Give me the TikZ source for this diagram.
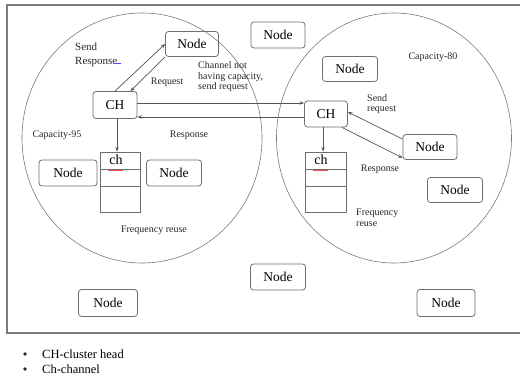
\documentclass[tikz,border=0pt]{standalone}
\usepackage{fontspec}
\setmainfont{Liberation Serif}
\usetikzlibrary{arrows.meta,shapes.geometric}
\definecolor{linegray}{HTML}{555555}
\definecolor{boxgray}{HTML}{6E6E6E}
\definecolor{framegray}{HTML}{7A7A7A}
\tikzset{
  nodebox/.style={draw=boxgray, line width=0.8pt, rounded corners=3pt, inner sep=0pt,
    minimum width=54pt, minimum height=25pt, font=\fontsize{13.5}{15}\selectfont},
  cell/.style={draw=framegray, line width=0.6pt, ellipse, inner sep=0pt},
  tab/.style={draw=boxgray, line width=0.7pt, inner sep=0pt, minimum width=40pt, minimum height=60pt},
  lbl/.style={font=\fontsize{10}{10.5}\selectfont, inner sep=0pt, text=black!85},
  arr/.style={draw=linegray, line width=0.7pt, -{Stealth[length=4.5pt,width=3.5pt]}},
  legend/.style={font=\fontsize{12.5}{14}\selectfont, inner sep=0pt, anchor=west},
  bullet/.style={circle, fill=black!85, inner sep=0pt, minimum size=3.6pt}
}
\begin{document}
\begin{tikzpicture}[x=1pt,y=-1pt]
\useasboundingbox (0,0) rectangle (520,377);
% frame
\draw[framegray, line width=1.2pt] (520,5) -- (7,5) -- (7,333) -- (520,333);
% cells
\node[cell, minimum width=240pt, minimum height=250pt] (cellL) at (142,138) {};
\node[cell, minimum width=235pt, minimum height=250pt] (cellR) at (394,138) {};
% nodes
\node[nodebox, minimum width=53pt] (nTop) at (192,44) {Node};
\node[nodebox, minimum height=26pt] (nMidTop) at (278,35) {Node};
\node[nodebox, minimum width=55pt] (nRTop) at (350,69) {Node};
\node[nodebox, minimum width=44pt, minimum height=27pt] (CHL) at (115,105) {CH};
\node[nodebox, minimum width=43pt, minimum height=26pt] (CHR) at (326,114) {CH};
\node[nodebox] (nR) at (430,147) {Node};
\node[nodebox, minimum width=55pt] (nR2) at (455,190) {Node};
\node[nodebox, minimum width=58pt, minimum height=26pt] (nL1) at (68,173) {Node};
\node[nodebox, minimum width=55pt, minimum height=26pt] (nL2) at (174,173) {Node};
\node[nodebox, minimum width=59pt, minimum height=27pt] (nB1) at (108,303) {Node};
\node[nodebox, minimum width=55pt, minimum height=26pt] (nB2) at (278,277) {Node};
\node[nodebox, minimum width=58pt, minimum height=27pt] (nB3) at (446,303) {Node};
% channel tables
\node[tab] (tabL) at (120,182) {};
\draw[boxgray, line width=0.7pt] (tabL.west |- 0,169) -- (tabL.east |- 0,169);
\draw[boxgray, line width=0.7pt] (tabL.west |- 0,186) -- (tabL.east |- 0,186);
\node[font=\fontsize{14}{15}\selectfont, inner sep=0pt] (chL) at (116,160) {ch};
\draw[red!70, line width=0.4pt] (108,169.8) -- (123,169.8);
\node[tab, minimum width=41pt] (tabR) at (325.5,182) {};
\draw[boxgray, line width=0.7pt] (tabR.west |- 0,169) -- (tabR.east |- 0,169);
\draw[boxgray, line width=0.7pt] (tabR.west |- 0,186) -- (tabR.east |- 0,186);
\node[font=\fontsize{14}{15}\selectfont, inner sep=0pt] (chR) at (321,160) {ch};
\draw[red!70, line width=0.4pt] (313,169.8) -- (328,169.8);
% labels
\node[lbl, anchor=west, align=left, font=\fontsize{11}{13.5}\selectfont] (lSendResp) at (75,55) {Send\\Response};
\draw[blue!70, line width=0.4pt] (114,63.5) -- (121,63.5);
\node[lbl] (lReq) at (167,82) {Request};
\node[lbl, anchor=west, align=left] (lChan) at (198,77) {Channel not\\having capacity,\\send request};
\node[lbl] (lCap95) at (57,135) {Capacity-95};
\node[lbl] (lRespL) at (189,135) {Response};
\node[lbl] (lCap80) at (433,57) {Capacity-80};
\node[lbl, anchor=west, align=left] (lSendReq) at (367,104) {Send\\request};
\node[lbl] (lRespR) at (380,169) {Response};
\node[lbl] (lFreqL) at (154,230) {Frequency reuse};
\node[lbl, anchor=west, align=left] (lFreqR) at (356,218) {Frequency\\reuse};
% connectors
\draw[arr] (CHL.north) -- (nTop.west);
\draw[arr] (nTop.south west) -- ([xshift=-7pt]CHL.north east);
\draw[arr] ([yshift=2pt]CHL.east) -- ([yshift=11pt]CHR.west);
\draw[arr] ([yshift=-3pt]CHR.west) -- ([yshift=-12pt]CHL.east);
\draw[arr] ([xshift=2pt]CHL.south) -- ([xshift=-3pt]tabL.north);
\draw[arr] ([xshift=-3pt]CHR.south) -- ([xshift=-2.5pt]tabR.north);
\draw[arr] ([yshift=-5pt]nR.north west) -- ([yshift=2pt]CHR.east);
\draw[arr] ([xshift=-6pt]CHR.south east) -- ([yshift=2pt]nR.south west);
% legend
\node[bullet] (b1) at (25,354) {};
\node[legend] (t1) at (42,354) {CH-cluster head};
\node[bullet] (b2) at (25,369) {};
\node[legend] (t2) at (42,369) {Ch-channel};
\end{tikzpicture}
\end{document}
